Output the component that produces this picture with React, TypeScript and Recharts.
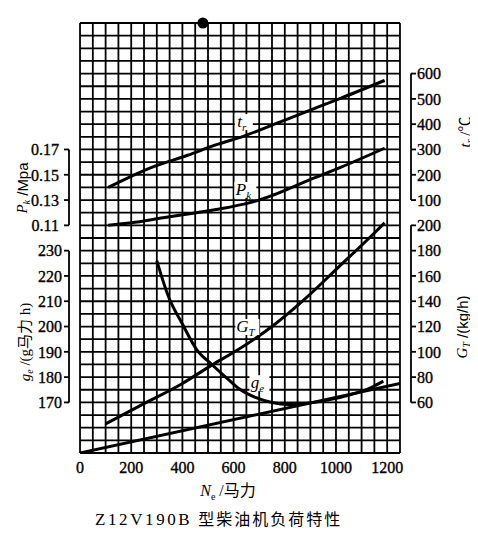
import React from 'react';
import { LineChart, Line, XAxis, YAxis, CartesianGrid, ReferenceDot } from 'recharts';

const SERIF = '"Liberation Serif", "Noto Sans CJK SC", serif';
const SANS = '"Liberation Sans", "Noto Sans CJK SC", sans-serif';

const W = 470;
const H = 520;
const M = { top: 15, right: 78, bottom: 45, left: 72 };
const XH = 30;
const PLOT_H = H - M.top - M.bottom - XH;
const ROWS = 34;
const AW = 0.01; // near-zero axis width so stacked axes share one edge

// X axis (N_e, 马力)
const xDomain = [0, 1250];
const xGridTicks = Array.from({ length: 26 }, (_, i) => i * 50);
const xLabelTicks = [0, 200, 400, 600, 800, 1000, 1200];

// Y axes
const pkTicks = [0.11, 0.13, 0.15, 0.17];
const pkDomain = [-0.07, 0.27];
const geTicks = [170, 180, 190, 200, 210, 220, 230];
const geDomain = [150, 320];
const trTicks = [100, 200, 300, 400, 500, 600];
const trDomain = [-900, 800];
const gtTicks = [60, 80, 100, 120, 140, 160, 180, 200];
const gtDomain = [20, 360];
const gridDomain = [0, ROWS];
const gridTicks = Array.from({ length: ROWS + 1 }, (_, i) => i);

// Series: exhaust temperature t_r (℃)
const trN = [110, 200, 290, 420, 530, 640, 755, 885, 1020, 1190];
const trV = [150, 194, 233, 277, 318, 353, 398, 450, 503, 573];
// Boost pressure P_k (MPa)
const pkN = [110, 200, 325, 455, 560, 640, 700, 755, 885, 1020, 1190];
const pkV = [0.11, 0.112, 0.116, 0.12, 0.1235, 0.1268, 0.13, 0.134, 0.145, 0.156, 0.171];
// Hourly fuel consumption G_T (kg/h)
const gtN = [100, 250, 400, 515, 620, 750, 880, 1010, 1140, 1190];
const gtV = [43, 59, 75, 89.5, 102, 120, 142, 167, 192, 202];
// Specific fuel consumption g_e (g/马力·h)
const geN = [300, 345, 400, 455, 515, 580, 620, 685, 750, 815, 880, 1010, 1140, 1185];
const geV = [226, 212, 201, 191, 185, 179, 175.5, 172, 170, 169.2, 169.6, 171.8, 176, 178.4];
// Straight reference line (on G_T scale)
const refN = [0, 1250];
const refV = [20, 75];

const zip = (ns: number[], vs: number[]) => ns.map((n, i) => ({ n, v: vs[i] }));
const trData = zip(trN, trV);
const pkData = zip(pkN, pkV);
const gtData = zip(gtN, gtV);
const geData = zip(geN, geV);
const refData = zip(refN, refV);

const fmt2 = (v: number) => v.toFixed(2);
const fmt0 = (v: number) => String(v);

function makeYTick(side: 'left' | 'right', domain: number[], step: number, minTick: number, labelGap: number, fmt: (v: number) => string) {
  const d = (PLOT_H * step) / (domain[1] - domain[0]);
  const s = side === 'left' ? -1 : 1;
  return (props: any) => {
    const { x, y, payload } = props;
    const v = payload.value;
    const lineX = x + s * 11;
    const tickEnd = x + s * 16;
    return (
      <g>
        {v > minTick + 1e-9 && (
          <line x1={lineX} x2={lineX} y1={y} y2={y + d} stroke="#000" strokeWidth={1.8} />
        )}
        <line x1={lineX} x2={tickEnd} y1={y} y2={y} stroke="#000" strokeWidth={1.8} />
        <text
          x={x + s * labelGap}
          y={y}
          dy="0.36em"
          textAnchor={side === 'left' ? 'end' : 'start'}
          fontSize={16}
          fontFamily={SERIF}
          fill="#000"
          stroke="#000"
          strokeWidth={0.35}
        >
          {fmt(v)}
        </text>
      </g>
    );
  };
}

const PkTick = makeYTick('left', pkDomain, 0.02, 0.11, 21, fmt2);
const GeTick = makeYTick('left', geDomain, 10, 170, 18, fmt0);
const TrTick = makeYTick('right', trDomain, 100, 100, 17, fmt0);
const GtTick = makeYTick('right', gtDomain, 20, 60, 17, fmt0);

const XTick = (props: any) => {
  const { x, y, payload } = props;
  const v = payload.value;
  if (!xLabelTicks.includes(v)) return <g />;
  return (
    <text x={x} y={y} dy="0.75em" textAnchor="middle" fontSize={16} fontFamily={SERIF} fill="#000" stroke="#000" strokeWidth={0.35}>
      {String(v)}
    </text>
  );
};

const YTitle = ({ viewBox, dx, cy, main, sub, rest, restFont }: any) => {
  const side = dx < 0 ? viewBox.x : viewBox.x + viewBox.width;
  const cx = side + dx;
  return (
    <text
      x={cx}
      y={cy}
      transform={`rotate(-90, ${cx}, ${cy})`}
      textAnchor="middle"
      dominantBaseline="central"
      fontSize={15}
      fill="#000"
      fontFamily={SERIF}
    >
      <tspan fontStyle="italic">{main}</tspan>
      <tspan fontStyle="italic" fontSize={10} dy={4}>{sub}</tspan>
      <tspan dy={-4} fontFamily={restFont || SERIF}>{rest}</tspan>
    </text>
  );
};

const CurveLabel = ({ viewBox, main, sub, w }: any) => {
  const cx = viewBox.x + viewBox.width / 2;
  const cy = viewBox.y + viewBox.height / 2;
  const bw = w || 20;
  return (
    <g>
      <rect x={cx - bw / 2} y={cy - 8} width={bw} height={16} fill="#fff" />
      <text x={cx - 2} y={cy} dy="0.3em" textAnchor="middle" fontSize={17} fontStyle="italic" fontFamily={SERIF} fill="#000">
        {main}
        <tspan fontSize={11} dy={4}>{sub}</tspan>
      </text>
    </g>
  );
};

const axisCommon = {
  type: 'number' as const,
  interval: 0 as const,
  allowDataOverflow: true,
  width: AW,
  axisLine: false,
  tickLine: false,
  tickSize: 0,
  tickMargin: 0,
};

export default function App() {
  return (
    <div style={{ position: 'relative', width: W, height: H }}>
      <LineChart width={W} height={H} margin={M}>
        <CartesianGrid yAxisId="grid" stroke="#000" strokeWidth={1.8} fill="none" />
        <XAxis
          dataKey="n"
          type="number"
          domain={xDomain}
          ticks={xGridTicks}
          interval={0}
          allowDataOverflow
          height={XH}
          axisLine={false}
          tickLine={false}
          tickSize={0}
          tickMargin={8}
          tick={XTick}
        />
        <YAxis yAxisId="grid" type="number" domain={gridDomain} ticks={gridTicks} interval={0} allowDataOverflow hide width={AW} />
        <YAxis
          yAxisId="pk"
          orientation="left"
          {...axisCommon}
          domain={pkDomain}
          ticks={pkTicks}
          tick={PkTick}
          label={<YTitle dx={-58} cy={180} main="P" sub="k" rest=" /Mpa" restFont={SANS} />}
        />
        <YAxis
          yAxisId="ge"
          orientation="left"
          {...axisCommon}
          domain={geDomain}
          ticks={geTicks}
          tick={GeTick}
          label={<YTitle dx={-55} cy={334} main="g" sub="e" rest=" /(g马力 h)" />}
        />
        <YAxis
          yAxisId="tr"
          orientation="right"
          {...axisCommon}
          domain={trDomain}
          ticks={trTicks}
          tick={TrTick}
          label={<YTitle dx={65} cy={124} main="t" sub="r" rest=" /℃" />}
        />
        <YAxis
          yAxisId="gt"
          orientation="right"
          {...axisCommon}
          domain={gtDomain}
          ticks={gtTicks}
          tick={GtTick}
          label={<YTitle dx={62} cy={319} main="G" sub="T" rest=" /(kg/h)" restFont={SANS} />}
        />
        <Line yAxisId="tr" data={trData} dataKey="v" type="monotone" stroke="#000" strokeWidth={3} dot={false} isAnimationActive={false} />
        <Line yAxisId="pk" data={pkData} dataKey="v" type="monotone" stroke="#000" strokeWidth={3} dot={false} isAnimationActive={false} />
        <Line yAxisId="gt" data={gtData} dataKey="v" type="monotone" stroke="#000" strokeWidth={3} dot={false} isAnimationActive={false} />
        <Line yAxisId="ge" data={geData} dataKey="v" type="monotone" stroke="#000" strokeWidth={3} dot={false} isAnimationActive={false} />
        <Line yAxisId="gt" data={refData} dataKey="v" type="linear" stroke="#000" strokeWidth={3} dot={false} isAnimationActive={false} />
        <ReferenceDot yAxisId="tr" x={640} y={408} r={0} stroke="none" fill="none" label={<CurveLabel main="t" sub="r" w={18} />} />
        <ReferenceDot yAxisId="pk" x={646} y={0.138} r={0} stroke="none" fill="none" label={<CurveLabel main="P" sub="k" w={22} />} />
        <ReferenceDot yAxisId="gt" x={654} y={119.6} r={0} stroke="none" fill="none" label={<CurveLabel main="G" sub="T" w={24} />} />
        <ReferenceDot yAxisId="ge" x={701} y={177.6} r={0} stroke="none" fill="none" label={<CurveLabel main="g" sub="e" w={20} />} />
        <ReferenceDot yAxisId="grid" x={480} y={34} r={5.5} fill="#000" stroke="none" ifOverflow="visible" />
      </LineChart>
      <div
        style={{
          position: 'absolute',
          left: 0,
          top: 474,
          width: 440,
          textAlign: 'center',
          fontFamily: SERIF,
          fontSize: 16,
          lineHeight: '18px',
          color: '#000',
        }}
      >
        <i>N</i>
        <sub style={{ fontSize: 10 }}>e</sub> /马力
      </div>
      <div
        style={{
          position: 'absolute',
          left: 87,
          top: 503,
          whiteSpace: 'nowrap',
          fontFamily: SERIF,
          fontSize: 16,
          lineHeight: '18px',
          color: '#000',
        }}
      >
        <span style={{ fontSize: 17, letterSpacing: 2.6 }}>Z12V190B</span>
        <span style={{ letterSpacing: 2 }}> 型柴油机负荷特性</span>
      </div>
    </div>
  );
}
